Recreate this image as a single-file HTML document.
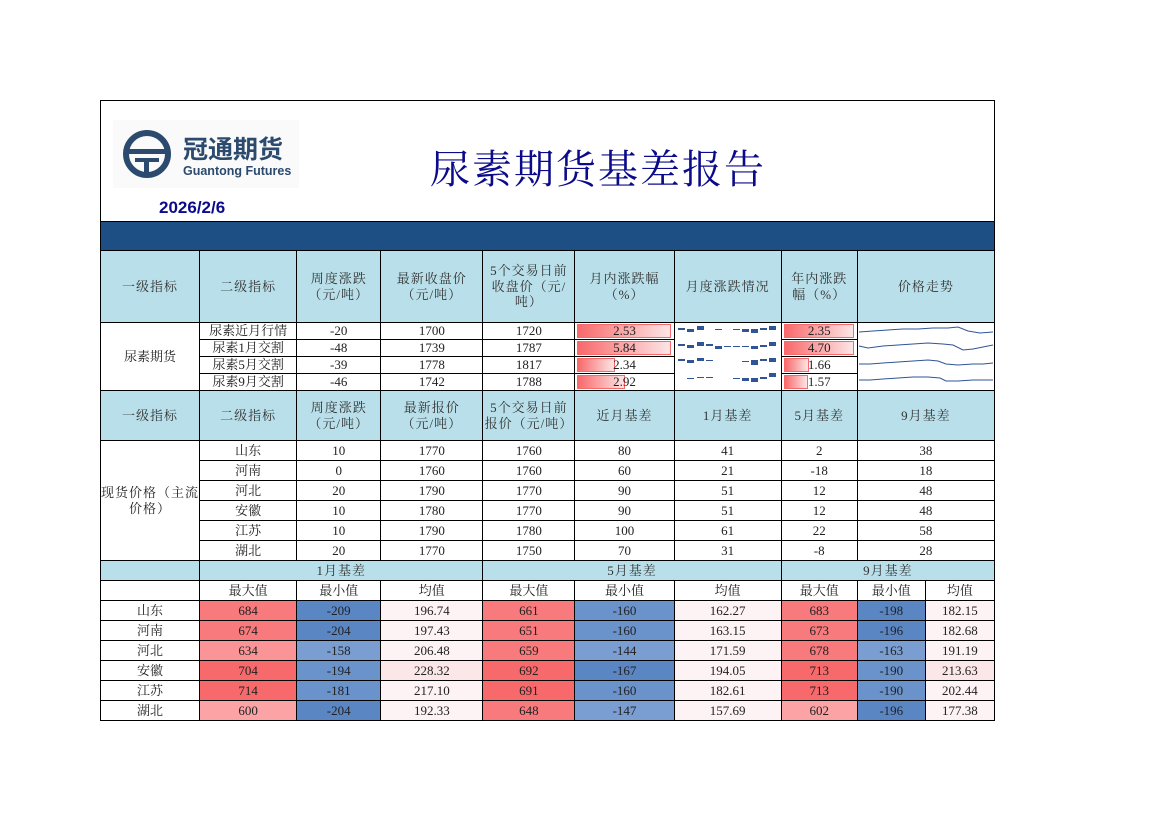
<!DOCTYPE html>
<html><head><meta charset="utf-8"><style>
body{margin:0;background:#fff;width:1169px;height:826px;position:relative;overflow:hidden;font-family:"Liberation Serif","Noto Serif CJK SC",serif;}
#frame{position:absolute;left:100px;top:100px;width:893px;height:620px;border:1px solid #000;border-bottom:none;}
table{position:absolute;left:100px;top:221px;border-collapse:collapse;table-layout:fixed;width:895px;font-size:13px;color:#222;}
td{border:1.5px solid #000;text-align:center;padding:0;overflow:hidden;white-space:nowrap;line-height:1.2;}
.f td{line-height:14px;font-size:13px;}
.h{background:#b9e0ea;color:#333;white-space:normal;letter-spacing:1px;}
.band{background:#1e4f84;}
.r1{background:#f8696b}.r2{background:#f97a7c}.r3{background:#fa9496}.r4{background:#fba3a5}
.b1{background:#5b86c4}.b2{background:#6a92cb}.b3{background:#7a9ed2}
.w1{background:#fdf3f4}.w2{background:#fbe6e8}.w3{background:#f8d8db}
.bar{position:relative;}
.bar i{position:absolute;left:2px;top:1px;bottom:1px;background:linear-gradient(90deg,#f8696b,#fde5e6);border:1px solid #f8696b;box-sizing:border-box}
.bar span{position:relative}
</style></head><body>
<div id="frame"></div>
<svg style="position:absolute;left:113px;top:120px" width="186" height="68">
<rect width="186" height="68" fill="#fafafa"/>
<circle cx="34" cy="34" r="21" fill="none" stroke="#2b4a6e" stroke-width="6"/>
<rect x="14" y="29" width="40" height="5" fill="#2b4a6e"/><rect x="22" y="38" width="24" height="4" fill="#2b4a6e"/><rect x="31" y="38" width="5" height="16" fill="#2b4a6e"/>
<text x="70" y="38" font-family="Noto Sans CJK SC" font-weight="bold" font-size="25" fill="#2b4a6e">冠通期货</text>
<text x="70" y="55" font-family="Liberation Sans" font-weight="bold" font-size="12.5" fill="#2b4a6e">Guantong Futures</text>
</svg>
<div style="position:absolute;left:430px;top:138px;font-size:40px;color:#0a0a8a;letter-spacing:2px;font-family:'Noto Serif CJK SC','Noto Sans CJK SC',serif">尿素期货基差报告</div>
<div style="position:absolute;left:159px;top:198px;font-size:17px;font-weight:bold;color:#0a0a8a;font-family:'Liberation Sans',sans-serif">2026/2/6</div>
<table>
<colgroup><col style="width:99px"><col style="width:97px"><col style="width:84px"><col style="width:102px"><col style="width:92px"><col style="width:99px"><col style="width:107px"><col style="width:76px"><col style="width:68px"><col style="width:69px"></colgroup>
<tr style="height:29px"><td colspan="10" class="band"></td></tr>
<tr style="height:72px"><td class="h">一级指标</td><td class="h">二级指标</td><td class="h">周度涨跌<br>（元/吨）</td><td class="h">最新收盘价<br>（元/吨）</td><td class="h">5个交易日前收盘价（元/吨）</td><td class="h">月内涨跌幅<br>（%）</td><td class="h">月度涨跌情况</td><td class="h">年内涨跌<br>幅（%）</td><td class="h" colspan="2">价格走势</td></tr>
<tr class="f" style="height:16px"><td rowspan="4">尿素期货</td><td>尿素近月行情</td><td>-20</td><td>1700</td><td>1720</td><td class="bar"><i style="width:94px"></i><span>2.53</span></td><td rowspan="4" style="vertical-align:top"><svg width="105" height="64"><g fill="#2f5597"><rect x="3" y="5" width="7" height="2"/><rect x="12" y="6" width="7" height="3"/><rect x="22" y="3" width="7" height="4"/><rect x="40" y="6" width="7" height="1"/><rect x="58" y="6" width="7" height="1"/><rect x="67" y="6" width="7" height="3"/><rect x="76" y="6" width="7" height="4"/><rect x="85" y="5" width="7" height="2"/><rect x="94" y="3" width="7" height="4"/>
<rect x="3" y="21" width="7" height="2"/><rect x="12" y="22" width="7" height="3"/><rect x="22" y="19" width="7" height="4"/><rect x="31" y="21" width="7" height="2"/><rect x="40" y="23" width="7" height="3"/><rect x="49" y="23" width="7" height="1"/><rect x="58" y="23" width="7" height="1"/><rect x="67" y="23" width="7" height="1"/><rect x="76" y="23" width="7" height="3"/><rect x="85" y="22" width="7" height="2"/><rect x="94" y="19" width="7" height="4"/>
<rect x="3" y="36" width="7" height="2"/><rect x="12" y="37" width="7" height="3"/><rect x="22" y="35" width="7" height="3"/><rect x="31" y="37" width="7" height="1"/><rect x="67" y="38" width="7" height="1"/><rect x="76" y="37" width="7" height="5"/><rect x="85" y="36" width="7" height="2"/><rect x="94" y="35" width="7" height="4"/>
<rect x="12" y="55" width="7" height="1"/><rect x="22" y="54" width="7" height="1"/><rect x="31" y="54" width="7" height="1"/><rect x="58" y="55" width="7" height="1"/><rect x="67" y="55" width="7" height="3"/><rect x="76" y="55" width="7" height="4"/><rect x="85" y="54" width="7" height="2"/><rect x="94" y="50" width="7" height="4"/></g></svg></td><td class="bar"><i style="width:70px"></i><span>2.35</span></td><td colspan="2" rowspan="4" style="vertical-align:top"><svg width="136" height="64" fill="none" stroke="#2f5597" stroke-width="1"><polyline points="1,9 15,8 30,7 45,6 60,6 75,5 90,5 100,4 110,8 122,10 135,9"/><polyline points="1,23 10,25 25,23 40,22 55,21 70,20 85,21 95,22 105,27 115,26 125,24 135,22"/><polyline points="1,41 12,41 25,40 40,39 55,38 70,37 80,38 88,41 100,42 115,41 125,41 135,40"/><polyline points="1,57 12,57 25,56 40,55 55,54 70,54 82,55 88,58 100,58 115,57 125,57 135,57"/></svg></td></tr>
<tr class="f" style="height:16px"><td>尿素1月交割</td><td>-48</td><td>1739</td><td>1787</td><td class="bar"><i style="width:94px"></i><span>5.84</span></td><td class="bar"><i style="width:70px"></i><span>4.70</span></td></tr>
<tr class="f" style="height:16px"><td>尿素5月交割</td><td>-39</td><td>1778</td><td>1817</td><td class="bar"><i style="width:38px"></i><span>2.34</span></td><td class="bar"><i style="width:25px"></i><span>1.66</span></td></tr>
<tr class="f" style="height:16px"><td>尿素9月交割</td><td>-46</td><td>1742</td><td>1788</td><td class="bar"><i style="width:48px"></i><span>2.92</span></td><td class="bar"><i style="width:24px"></i><span>1.57</span></td></tr>
<tr style="height:50px"><td class="h">一级指标</td><td class="h">二级指标</td><td class="h">周度涨跌<br>（元/吨）</td><td class="h">最新报价<br>（元/吨）</td><td class="h">5个交易日前报价（元/吨）</td><td class="h">近月基差</td><td class="h">1月基差</td><td class="h">5月基差</td><td class="h" colspan="2">9月基差</td></tr>
<tr style="height:20px"><td rowspan="6" style="white-space:normal;letter-spacing:1px">现货价格（主流价格）</td><td>山东</td><td>10</td><td>1770</td><td>1760</td><td>80</td><td>41</td><td>2</td><td colspan="2">38</td></tr>
<tr style="height:20px"><td>河南</td><td>0</td><td>1760</td><td>1760</td><td>60</td><td>21</td><td>-18</td><td colspan="2">18</td></tr>
<tr style="height:20px"><td>河北</td><td>20</td><td>1790</td><td>1770</td><td>90</td><td>51</td><td>12</td><td colspan="2">48</td></tr>
<tr style="height:20px"><td>安徽</td><td>10</td><td>1780</td><td>1770</td><td>90</td><td>51</td><td>12</td><td colspan="2">48</td></tr>
<tr style="height:20px"><td>江苏</td><td>10</td><td>1790</td><td>1780</td><td>100</td><td>61</td><td>22</td><td colspan="2">58</td></tr>
<tr style="height:20px"><td>湖北</td><td>20</td><td>1770</td><td>1750</td><td>70</td><td>31</td><td>-8</td><td colspan="2">28</td></tr>
<tr style="height:20px"><td class="h"></td><td class="h" colspan="3">1月基差</td><td class="h" colspan="3">5月基差</td><td class="h" colspan="3">9月基差</td></tr>
<tr style="height:20px"><td></td><td>最大值</td><td>最小值</td><td>均值</td><td>最大值</td><td>最小值</td><td>均值</td><td>最大值</td><td>最小值</td><td>均值</td></tr>
<tr style="height:20px"><td>山东</td><td class="r2">684</td><td class="b1">-209</td><td class="w1">196.74</td><td class="r2">661</td><td class="b2">-160</td><td class="w1">162.27</td><td class="r2">683</td><td class="b1">-198</td><td class="w1">182.15</td></tr>
<tr style="height:20px"><td>河南</td><td class="r2">674</td><td class="b1">-204</td><td class="w1">197.43</td><td class="r2">651</td><td class="b2">-160</td><td class="w1">163.15</td><td class="r2">673</td><td class="b1">-196</td><td class="w1">182.68</td></tr>
<tr style="height:20px"><td>河北</td><td class="r3">634</td><td class="b3">-158</td><td class="w1">206.48</td><td class="r2">659</td><td class="b3">-144</td><td class="w1">171.59</td><td class="r2">678</td><td class="b3">-163</td><td class="w1">191.19</td></tr>
<tr style="height:20px"><td>安徽</td><td class="r1">704</td><td class="b2">-194</td><td class="w2">228.32</td><td class="r1">692</td><td class="b1">-167</td><td class="w1">194.05</td><td class="r1">713</td><td class="b2">-190</td><td class="w2">213.63</td></tr>
<tr style="height:20px"><td>江苏</td><td class="r1">714</td><td class="b2">-181</td><td class="w1">217.10</td><td class="r1">691</td><td class="b2">-160</td><td class="w1">182.61</td><td class="r1">713</td><td class="b2">-190</td><td class="w1">202.44</td></tr>
<tr style="height:20px"><td>湖北</td><td class="r4">600</td><td class="b1">-204</td><td class="w1">192.33</td><td class="r2">648</td><td class="b3">-147</td><td class="w1">157.69</td><td class="r4">602</td><td class="b1">-196</td><td class="w1">177.38</td></tr>
</table>
</body></html>
